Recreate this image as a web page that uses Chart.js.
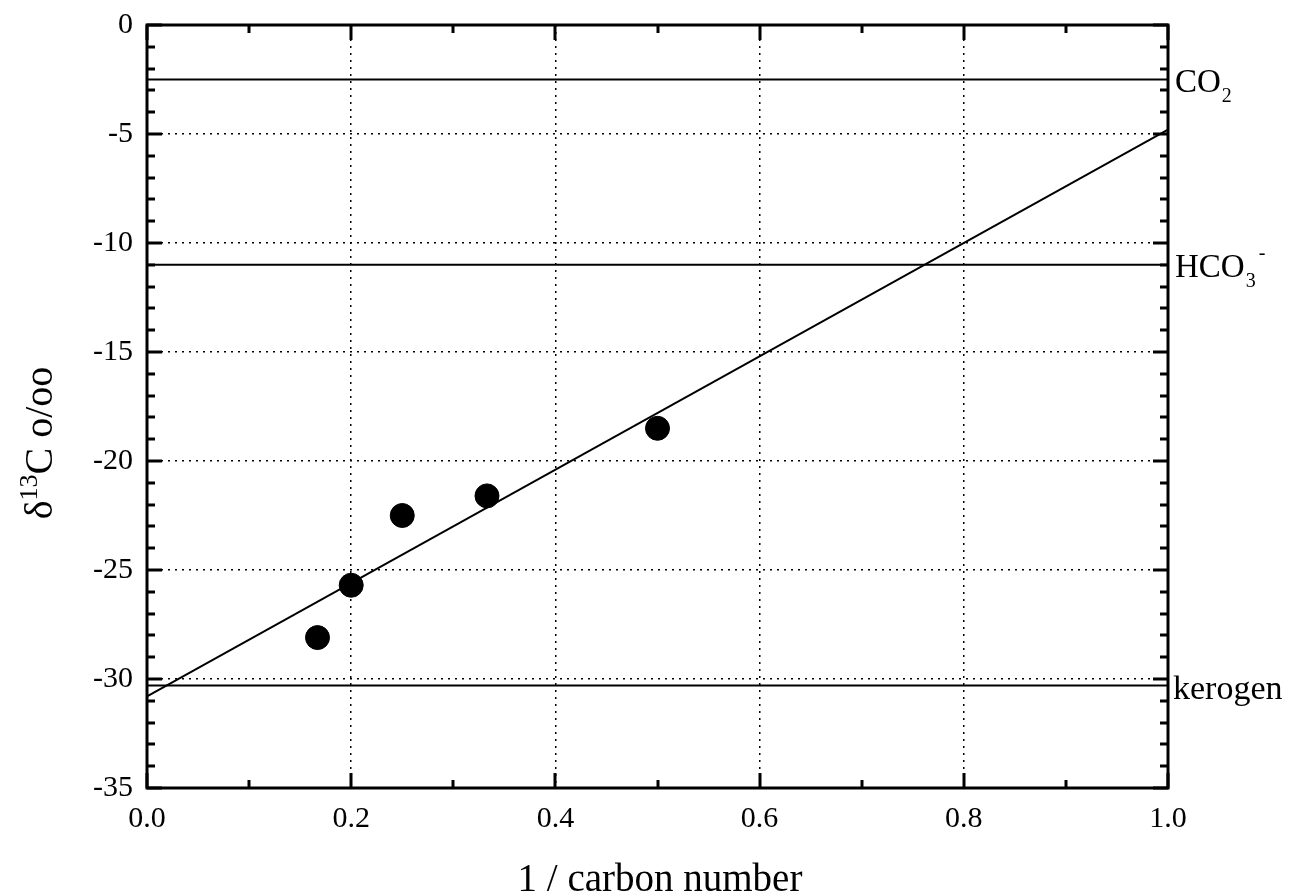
<!DOCTYPE html>
<html>
<head>
<meta charset="utf-8">
<script src="https://cdn.jsdelivr.net/npm/chart.js@4.4.0/dist/chart.umd.min.js"></script>
<style>
html, body { margin: 0; padding: 0; background: #fff; }
#wrap { width: 1289px; height: 894px; }
</style>
</head>
<body>
<div id="wrap"><canvas id="chart"></canvas></div>
<script>
// 1 / carbon number vs delta 13C
var invCarbon = [0.167, 0.2, 0.25, 0.333, 0.5];
var delta13C = [-28.1, -25.7, -22.5, -21.6, -18.5];

// fitted line end points
var fitX = [0, 1];
var fitY = [-30.8, -4.8];

// horizontal reference levels
var refNames = ['CO2', 'HCO3-', 'kerogen'];
var refValues = [-2.5, -11, -30.3];

var FONT = '"Liberation Serif", "Times New Roman", serif';

function hLine(v) {
    return [{ x: 0, y: v }, { x: 1, y: v }];
}

var refDatasets = refValues.map(function (v, i) {
    return {
        type: 'line',
        label: refNames[i],
        data: hLine(v),
        borderColor: '#000',
        borderWidth: 2,
        pointRadius: 0,
        fill: false
    };
});

// draws frame, inward ticks, right-hand labels and axis titles
var decorPlugin = {
    id: 'decor',
    afterDraw: function (chart) {
        var ctx = chart.ctx;
        var area = chart.chartArea;
        var xs = chart.scales.x;
        var ys = chart.scales.y;
        ctx.save();
        ctx.strokeStyle = '#000';
        ctx.fillStyle = '#000';

        // ticks
        ctx.lineWidth = 3;
        ctx.beginPath();
        for (var v = -35; v <= 0; v++) {
            var py = Math.round(ys.getPixelForValue(v));
            var len = (v % 5 === 0) ? 15 : 8;
            ctx.moveTo(area.left, py); ctx.lineTo(area.left + len, py);
            ctx.moveTo(area.right, py); ctx.lineTo(area.right - len, py);
        }
        for (var i = 0; i <= 10; i++) {
            var px = Math.round(xs.getPixelForValue(i / 10));
            var l2 = (i % 2 === 0) ? 15 : 8;
            ctx.moveTo(px, area.bottom); ctx.lineTo(px, area.bottom - l2);
            ctx.moveTo(px, area.top); ctx.lineTo(px, area.top + l2);
        }
        ctx.stroke();

        // frame
        ctx.lineWidth = 3;
        ctx.strokeRect(area.left, area.top, area.right - area.left, area.bottom - area.top);

        // reference labels
        var lx = area.right + 7;
        ctx.textAlign = 'left';
        ctx.textBaseline = 'alphabetic';
        refValues.forEach(function (val, k) {
            var y = ys.getPixelForValue(val) + 12;
            var name = refNames[k];
            ctx.font = '33px ' + FONT;
            if (name === 'CO2') {
                ctx.fillText('CO', lx, y);
                var w = ctx.measureText('CO').width;
                ctx.font = '20px ' + FONT;
                ctx.fillText('2', lx + w + 1, y + 10);
            } else if (name === 'HCO3-') {
                ctx.fillText('HCO', lx, y);
                var w2 = ctx.measureText('HCO').width;
                ctx.font = '20px ' + FONT;
                ctx.fillText('3', lx + w2 + 1, y + 10);
                ctx.fillText('-', lx + w2 + 14, y - 18);
            } else {
                ctx.font = '34px ' + FONT;
                ctx.fillText(name, lx - 2, y + 1);
            }
        });

        // x title
        ctx.font = '39px ' + FONT;
        ctx.textAlign = 'center';
        ctx.fillText('1 / carbon number', 660, 891);

        // y title with superscript
        ctx.translate(52, 443);
        ctx.rotate(-Math.PI / 2);
        ctx.textAlign = 'left';
        var big = '40px ' + FONT, small = '26px ' + FONT;
        ctx.font = big; var w1 = ctx.measureText('\u03b4').width;
        ctx.font = small; var ws = ctx.measureText('13').width;
        ctx.font = big; var w3 = ctx.measureText('C o/oo').width;
        var x0 = -(w1 + ws + w3) / 2;
        ctx.font = big; ctx.fillText('\u03b4', x0, 0);
        ctx.font = small; ctx.fillText('13', x0 + w1, -15);
        ctx.font = big; ctx.fillText('C o/oo', x0 + w1 + ws, 0);
        ctx.restore();
    }
};

var ctx = document.getElementById('chart').getContext('2d');
var chart = new Chart(ctx, {
    type: 'scatter',
    data: {
        datasets: [{
            label: 'samples',
            data: invCarbon.map(function (x, i) { return { x: x, y: delta13C[i] }; }),
            backgroundColor: '#000',
            borderColor: '#000',
            pointRadius: 12,
            pointHoverRadius: 12
        }, {
            type: 'line',
            label: 'fit',
            data: fitX.map(function (x, i) { return { x: x, y: fitY[i] }; }),
            borderColor: '#000',
            borderWidth: 2,
            pointRadius: 0,
            fill: false
        }].concat(refDatasets)
    },
    options: {
        responsive: true,
        maintainAspectRatio: false,
        devicePixelRatio: 1,
        animation: false,
        layout: { padding: { top: 25, right: 121, left: 0, bottom: 0 } },
        plugins: {
            legend: { display: false },
            tooltip: { enabled: false }
        },
        scales: {
            x: {
                type: 'linear',
                min: 0,
                max: 1,
                ticks: {
                    stepSize: 0.2,
                    padding: 13,
                    color: '#000',
                    font: { family: FONT, size: 30 },
                    callback: function (v) { return v.toFixed(1); }
                },
                grid: { color: '#000', lineWidth: 1.5, drawTicks: false },
                border: { display: false, dash: [2, 5] },
                afterFit: function (scale) {
                    scale.height = 106;
                    scale.paddingLeft = 0;
                    scale.paddingRight = 0;
                }
            },
            y: {
                type: 'linear',
                min: -35,
                max: 0,
                ticks: {
                    stepSize: 5,
                    padding: 14,
                    color: '#000',
                    font: { family: FONT, size: 30 }
                },
                grid: { color: '#000', lineWidth: 1.5, drawTicks: false },
                border: { display: false, dash: [2, 5] },
                afterFit: function (scale) {
                    scale.width = 147;
                    scale.paddingTop = 0;
                    scale.paddingBottom = 0;
                }
            }
        }
    },
    plugins: [decorPlugin]
});
</script>
</body>
</html>
